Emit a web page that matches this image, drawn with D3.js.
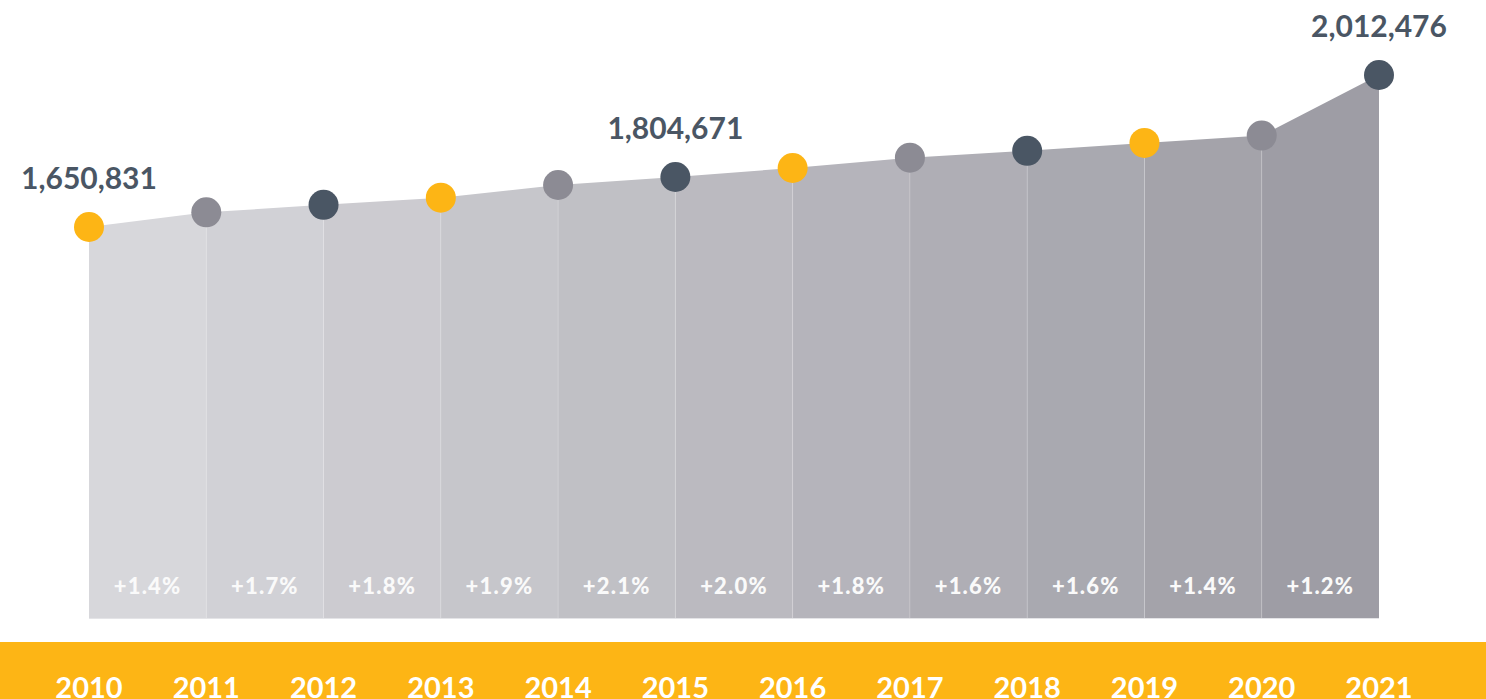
<!DOCTYPE html>
<html>
<head>
<meta charset="utf-8">
<script src="https://cdn.jsdelivr.net/npm/d3@7"></script>
<style>
  html, body { margin: 0; padding: 0; background: #fff; overflow: hidden; }
  svg { display: block; font-family: Lato, "Open Sans", sans-serif; }
</style>
</head>
<body>
<svg id="chart"></svg>
<script>
// data
const years = [2010, 2011, 2012, 2013, 2014, 2015, 2016, 2017, 2018, 2019, 2020, 2021];
const population = [1650831, 1696000, 1719000, 1741000, 1780000, 1804671, 1823000, 1844000, 1858000, 1874000, 1889000, 2012476];
const growth = [1.4, 1.7, 1.8, 1.9, 2.1, 2.0, 1.8, 1.6, 1.6, 1.4, 1.2];
const labelledYears = [2010, 2015, 2021];

const width = 1486, height = 699;
const bottom = 618;
const colors = { yellow: "#FDB515", gray: "#8C8B94", dark: "#4A5664" };
const dotColors = [colors.yellow, colors.gray, colors.dark];

const svg = d3.select("#chart")
    .attr("width", width)
    .attr("height", height);

const data = years.map((y, i) => ({ year: y, value: population[i] }));

const x = d3.scaleLinear()
    .domain([2010, 2021])
    .range([89, 1379]);

// the picture is not drawn to one linear scale, so use a piecewise one
// anchored on the three labelled values
const y = d3.scaleLinear()
    .domain([1650831, 1804671, 2012476])
    .range([227, 177, 75]);

const segColor = d3.scaleLinear()
    .domain([0, growth.length - 1])
    .range(["#d7d7db", "#9e9da5"]);

const area = d3.area()
    .x(d => x(d.year))
    .y0(bottom)
    .y1(d => y(d.value));

// one filled piece per year-to-year step
const segs = svg.append("g");
growth.forEach((g, i) => {
    segs.append("path")
        .datum([data[i], data[i + 1]])
        .attr("d", area)
        .attr("fill", segColor(i));
});

// thin separators under each dot
svg.append("g").selectAll("line")
    .data(data.slice(1, -1))
    .join("line")
    .attr("x1", d => x(d.year))
    .attr("x2", d => x(d.year))
    .attr("y1", d => y(d.value))
    .attr("y2", bottom)
    .attr("stroke", "rgba(255,255,255,0.18)")
    .attr("stroke-width", 1);

// light bottom edge
svg.append("line")
    .attr("x1", x(2010)).attr("x2", x(2021))
    .attr("y1", bottom + 0.5).attr("y2", bottom + 0.5)
    .attr("stroke", "#e4e4e7");

// growth labels
svg.append("g").selectAll("text")
    .data(growth)
    .join("text")
    .attr("x", (d, i) => (x(years[i]) + x(years[i + 1])) / 2)
    .attr("y", 594)
    .attr("text-anchor", "middle")
    .attr("fill", "#fafafa")
    .attr("font-size", 22)
    .attr("font-weight", 900)
    .attr("letter-spacing", 1.2)
    .text(d => "+" + d.toFixed(1) + "%");

// dots
svg.append("g").selectAll("circle")
    .data(data)
    .join("circle")
    .attr("cx", d => x(d.year))
    .attr("cy", d => y(d.value))
    .attr("r", 15)
    .attr("fill", (d, i) => dotColors[i % 3]);

// value labels
const fmt = d3.format(",");
svg.append("g").selectAll("text")
    .data(data.filter(d => labelledYears.includes(d.year)))
    .join("text")
    .attr("x", d => x(d.year))
    .attr("y", d => y(d.value) - 38)
    .attr("text-anchor", "middle")
    .attr("fill", colors.dark)
    .attr("font-size", 30)
    .attr("font-weight", 700)
    .text(d => fmt(d.value));

// yellow year band
svg.append("rect")
    .attr("x", 0).attr("y", 642)
    .attr("width", width).attr("height", height - 642)
    .attr("fill", colors.yellow);

svg.append("g").selectAll("text")
    .data(years)
    .join("text")
    .attr("x", d => x(d))
    .attr("y", 698)
    .attr("text-anchor", "middle")
    .attr("fill", "#fff")
    .attr("font-size", 29)
    .attr("font-weight", 700)
    .text(d => d);
</script>
</body>
</html>
